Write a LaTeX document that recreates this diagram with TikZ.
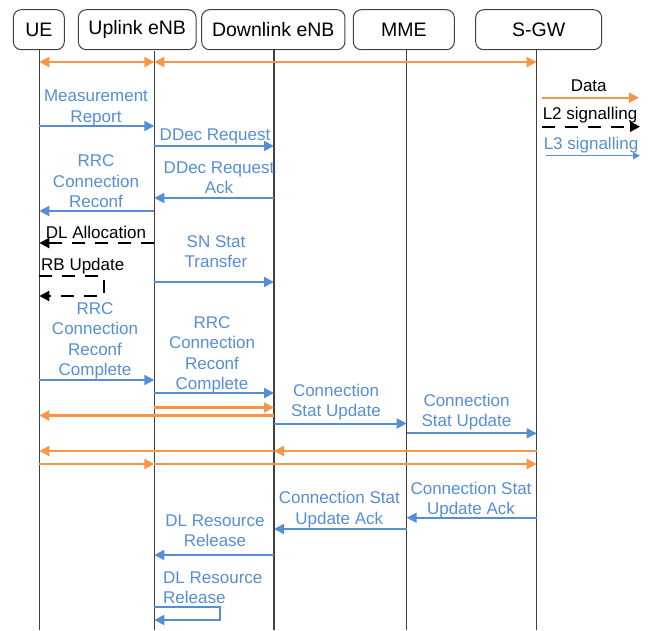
\documentclass[tikz,border=0pt]{standalone}
\usepackage{fontspec}
\setmainfont{Liberation Sans}
\usetikzlibrary{arrows.meta}

\definecolor{datacol}{RGB}{247,150,70}
\definecolor{sigcol}{RGB}{85,142,213}

\newcommand{\msgfont}{\fontsize{17}{20.3}\selectfont}
\newcommand{\headfont}{\fontsize{19.5}{23}\selectfont}

\begin{document}
\begin{tikzpicture}[x=1pt,y=-1pt,
  >={Triangle[length=10pt,width=10pt]},
  head/.style={draw=black!75,line width=1pt,rounded corners=8pt,
    minimum height=40pt,inner sep=0pt,font=\headfont},
  life/.style={black!75,line width=1.2pt},
  datamsg/.style={datacol,line width=2.2pt,->},
  ltwo/.style={black,line width=2.2pt,dash pattern=on 13pt off 10pt,->},
  lthree/.style={sigcol,line width=2pt,->},
  msg/.style={font=\msgfont,text=sigcol,align=center,inner sep=0pt,yshift=-1.5pt},
  note/.style={font=\msgfont,align=center,inner sep=0pt,yshift=-1.5pt}]

\useasboundingbox (0,0) rectangle (652,630);

% Entities
\node[head,minimum width=51pt] (ue) at (38.8,29.7) {UE};
\node[head,minimum width=117.7pt] (ul) at (137.2,29.7) {Uplink eNB};
\node[head,minimum width=143.3pt] (dl) at (273.3,29.7) {Downlink eNB};
\node[head,minimum width=101pt] (mme) at (403.8,29.7) {MME};
\node[head,minimum width=126pt] (sgw) at (538.7,29.7) {S-GW};

% Lifelines
\coordinate (ueL) at (39.3,49.7);
\coordinate (ulL) at (154.3,50.7);
\coordinate (dlL) at (274,49.3);
\coordinate (mmeL) at (406.7,49);
\coordinate (sgwL) at (536.7,49);
\foreach \l in {ueL,ulL,dlL,mmeL,sgwL}
  \draw[life] (\l) -- (\l |- 0,630);

% Data path before handover
\draw[datamsg,<->] (ueL |- 0,62) -- (ulL |- 0,62);
\draw[datamsg,<->] (ulL |- 0,62) -- (sgwL |- 0,62);

% Measurement and decoupling request
\node[msg] (mr) at (96,106.5) {Measurement\\Report};
\draw[lthree] (ueL |- 0,126) -- (ulL |- 0,126);
\node[msg] (ddr) at (215,134.7) {DDec Request};
\draw[lthree] (ulL |- 0,146) -- (dlL |- 0,146);
\node[msg] (ddra) at (219,176.5) {DDec Request\\Ack};
\draw[lthree] (dlL |- 0,198) -- (ulL |- 0,198);
\node[msg] (rrc) at (96,179.7) {RRC\\Connection\\Reconf};
\draw[lthree] (ulL |- 0,211) -- (ueL |- 0,211);

% L2 signalling towards the UE
\node[note] (dla) at (96,230.5) {DL Allocation};
\draw[ltwo] (ulL |- 0,243) -- (ueL |- 0,243);
\node[msg] (sn) at (216,250) {SN Stat\\Transfer};
\draw[lthree] (ulL |- 0,282) -- (dlL |- 0,282);
\node[note,anchor=west] (rb) at (41,265) {RB Update};
\coordinate (rbturn) at (104,296);
\draw[ltwo] (ueL |- 0,276) -| (rbturn) -- (ueL |- 0,296);

% Reconfiguration complete
\node[msg] (rrcc) at (95,339.2) {RRC\\Connection\\Reconf\\Complete};
\draw[lthree] (ueL |- 0,380) -- (ulL |- 0,380);
\node[msg] (rrcf) at (212,353.3) {RRC\\Connection\\Reconf\\Complete};
\draw[lthree] (ulL |- 0,393) -- (dlL |- 0,393);
\draw[datamsg] (ulL |- 0,407.5) -- (dlL |- 0,407.5);
\draw[datamsg] (dlL |- 0,415.5) -- (ueL |- 0,415.5);

% Path switch
\node[msg] (csu) at (336,400.5) {Connection\\Stat Update};
\draw[lthree] (dlL |- 0,423.5) -- (mmeL |- 0,423.5);
\node[msg] (csuf) at (466.5,410.5) {Connection\\Stat Update};
\draw[lthree] (mmeL |- 0,433.3) -- (sgwL |- 0,433.3);

% Data path after handover
\draw[datamsg] (sgwL |- 0,451) -- (dlL |- 0,451);
\draw[datamsg] (dlL |- 0,451) -- (ueL |- 0,451);
\draw[datamsg] (ueL |- 0,464) -- (ulL |- 0,464);
\draw[datamsg] (ulL |- 0,464) -- (sgwL |- 0,464);

% Acknowledgements and release
\node[msg] (csua) at (471,498.5) {Connection Stat\\Update Ack};
\draw[lthree] (sgwL |- 0,517.7) -- (mmeL |- 0,517.7);
\node[msg] (csub) at (339.3,508) {Connection Stat\\Update Ack};
\draw[lthree] (mmeL |- 0,529) -- (dlL |- 0,529);
\node[msg] (dlr) at (215,529.5) {DL Resource\\Release};
\draw[lthree] (dlL |- 0,555) -- (ulL |- 0,555);
\node[msg,align=left,anchor=west] (dlrs) at (163,586.5) {DL Resource\\Release};
\coordinate (dlrturn) at (220,620);
\draw[lthree] (ulL |- 0,606.7) -| (dlrturn) -- (ulL |- 0,620);

% Legend
\node[note] (data) at (588.7,84) {Data};
\coordinate (dataA) at (542,97.7);
\coordinate (dataB) at (639,97.7);
\draw[datamsg] (dataA) -- (dataB);
\node[note] (ltwokey) at (590,113.8) {L2 signalling};
\coordinate (ltwoA) at (542,126.7);
\coordinate (ltwoB) at (640,126.7);
\draw[ltwo] (ltwoA) -- (ltwoB);
\node[msg] (lthreekey) at (591,143.3) {L3 signalling};
\coordinate (lthreeA) at (546,155.7);
\coordinate (lthreeB) at (640,155.7);
\draw[sigcol,line width=1.5pt,-{Triangle[length=7pt,width=7pt]}] (lthreeA) -- (lthreeB);

\end{tikzpicture}
\end{document}
